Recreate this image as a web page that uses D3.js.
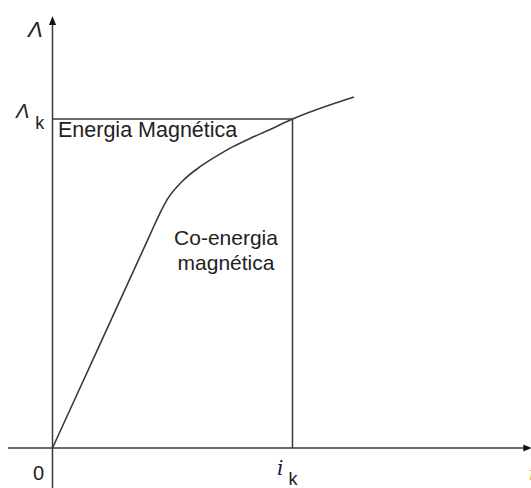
<!DOCTYPE html>
<html>
<head>
<meta charset="utf-8">
<script src="https://cdn.jsdelivr.net/npm/d3@7"></script>
<style>
  html, body { margin: 0; padding: 0; background: #fff; }
  svg { display: block; }
  text { font-family: "Liberation Sans", Arial, sans-serif; fill: #222; }
</style>
</head>
<body>
<svg id="chart" width="531" height="488"></svg>
<script>
// Magnetisation curve Λ(i): linear region, knee, then saturation
const currentI = [0, 2, 4, 4.48, 4.77, 5.44, 6.15, 6.85, 7.52, 8.23, 8.94, 10, 12.56];
const fluxLambda = [0, 3.19, 6.38, 7.14, 7.54, 8.13, 8.55, 8.88, 9.16, 9.41, 9.64, 10, 10.67];

// Operating point (i_k, Λ_k)
const iK = 10;
const lambdaK = 10;

// Axis extents in data units
const xExtent = [-1.85, 19.95];
const yExtent = [-1.22, 13.13];

// Region labels
const energyLabel = ["Energia Magnética"];
const coEnergyLabel = ["Co-energia", "magnética"];

const svg = d3.select("#chart");
const x = d3.scaleLinear().domain([0, 10]).range([52.5, 292.5]);
const y = d3.scaleLinear().domain([0, 10]).range([448, 119]);

const ink = "#3a3a3a";

// Axes
svg.append("line")
  .attr("x1", x(xExtent[0])).attr("x2", x(xExtent[1]) - 5)
  .attr("y1", y(0)).attr("y2", y(0))
  .attr("stroke", ink).attr("stroke-width", 1.5);
svg.append("line")
  .attr("x1", x(0)).attr("x2", x(0))
  .attr("y1", y(yExtent[0])).attr("y2", y(yExtent[1]) + 6)
  .attr("stroke", ink).attr("stroke-width", 1.5);

// Arrowheads
const xTip = [x(xExtent[1]), y(0)];
svg.append("path")
  .attr("d", `M${xTip[0]},${xTip[1]} L${xTip[0] - 8},${xTip[1] - 3.5} L${xTip[0] - 8},${xTip[1] + 3.5} Z`)
  .attr("fill", "#111");
const yTip = [x(0), y(yExtent[1])];
svg.append("path")
  .attr("d", `M${yTip[0]},${yTip[1]} L${yTip[0] - 3.5},${yTip[1] + 9} L${yTip[0] + 3.5},${yTip[1] + 9} Z`)
  .attr("fill", "#111");

// Guide lines at the operating point
svg.append("line")
  .attr("x1", x(0)).attr("x2", x(iK))
  .attr("y1", y(lambdaK)).attr("y2", y(lambdaK))
  .attr("stroke", ink).attr("stroke-width", 1.5);
svg.append("line")
  .attr("x1", x(iK)).attr("x2", x(iK))
  .attr("y1", y(0)).attr("y2", y(lambdaK))
  .attr("stroke", ink).attr("stroke-width", 1.5);

// Curve
const pts = currentI.map((v, k) => [v, fluxLambda[k]]);
const line = d3.line().x(d => x(d[0])).y(d => y(d[1])).curve(d3.curveMonotoneX);
svg.append("path")
  .attr("d", line(pts))
  .attr("fill", "none")
  .attr("stroke", ink).attr("stroke-width", 1.6);

// Axis labels
svg.append("text").attr("x", 28).attr("y", 37)
  .style("font-size", "22px").style("font-style", "italic").text("Λ");
const lk = svg.append("text").attr("x", 16).attr("y", 118).style("font-size", "20px");
lk.append("tspan").style("font-style", "italic").text("Λ");
lk.append("tspan").attr("dx", 6).attr("dy", 11).style("font-size", "18px").text("k");

svg.append("text").attr("x", 33).attr("y", 480).style("font-size", "20px").text("0");

const ik = svg.append("text").attr("x", 277).attr("y", 475);
ik.append("tspan").style("font-family", "'DejaVu Serif', serif").style("font-style", "italic")
  .style("font-size", "20px").style("fill", "#1a1a3a").text("i");
ik.append("tspan").attr("dx", 5).attr("dy", 10).style("font-size", "18px").text("k");

svg.append("text").attr("x", 529).attr("y", 480)
  .style("font-family", "'DejaVu Serif', serif").style("font-style", "italic")
  .style("font-size", "19px").style("fill", "#e0a050").text("i");

// Region labels
svg.selectAll("text.energy").data(energyLabel).enter().append("text")
  .attr("class", "energy").attr("x", 58).attr("y", 137)
  .style("font-size", "21.5px").text(d => d);

svg.selectAll("text.coenergy").data(coEnergyLabel).enter().append("text")
  .attr("class", "coenergy").attr("x", 226).attr("y", (d, k) => 245 + k * 25)
  .attr("text-anchor", "middle").style("font-size", "21px").text(d => d);
</script>
</body>
</html>
